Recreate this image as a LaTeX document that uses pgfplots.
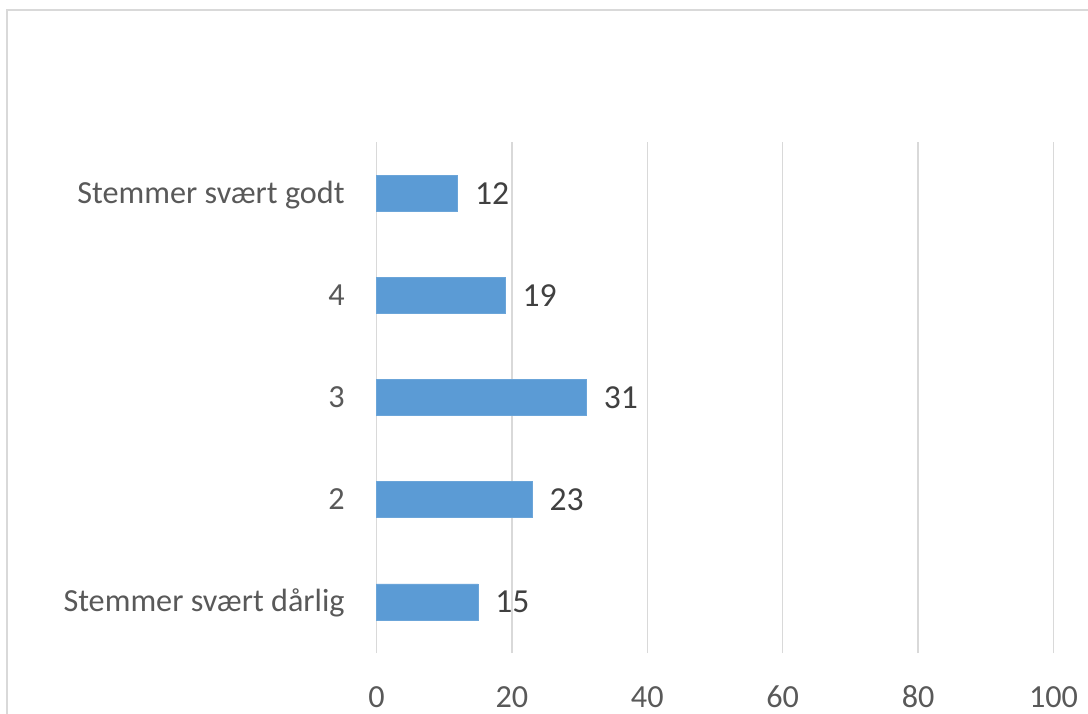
\documentclass[border=0pt]{standalone}
\usepackage{fontspec}
\setmainfont{Carlito}
\usepackage{pgfplots}
\pgfplotsset{compat=1.18}
\definecolor{barblue}{HTML}{5B9BD5}
\definecolor{gridgray}{HTML}{D9D9D9}
\definecolor{labgray}{HTML}{595959}
\definecolor{datgray}{HTML}{404040}
\begin{document}
\begin{tikzpicture}
\path[use as bounding box] (-188.25pt,-30pt) rectangle (355.75pt,326.5pt);
\clip (-188.25pt,-30pt) rectangle (355.75pt,326.5pt);
\draw[gridgray, line width=0.75pt] (-184.75pt,-60pt) -- (-184.75pt,321.5pt) -- (400pt,321.5pt);
\begin{axis}[
  at={(0pt,0pt)}, anchor=south west,
  xbar,
  scale only axis,
  width=338.5pt, height=255.5pt,
  xmin=0, xmax=100,
  ymin=-0.5, ymax=4.5,
  xtick={0,20,40,60,80,100},
  ytick={0,1,2,3,4},
  yticklabels={Stemmer svært dårlig,2,3,4,Stemmer svært godt},
  axis line style={draw=none},
  major tick length=0pt,
  xmajorgrids,
  grid style={gridgray, line width=0.75pt},
  bar width=18pt,
  /pgf/number format/assume math mode=true,
  tick label style={font=\fontsize{16.1}{19}\selectfont, color=labgray, inner sep=0pt},
  xticklabel style={anchor=base, yshift=-27pt},
  yticklabel style={anchor=base east, xshift=-15.75pt, yshift=-5pt},
  nodes near coords,
  nodes near coords style={anchor=west, inner sep=0pt, xshift=8.5pt, font=\fontsize{16.8}{20}\selectfont, color=datgray},
  clip=false,
]
\addplot[fill=barblue, draw=barblue!90!white] coordinates {
(15,0) (23,1) (31,2) (19,3) (12,4)
};
\end{axis}
\end{tikzpicture}
\end{document}
